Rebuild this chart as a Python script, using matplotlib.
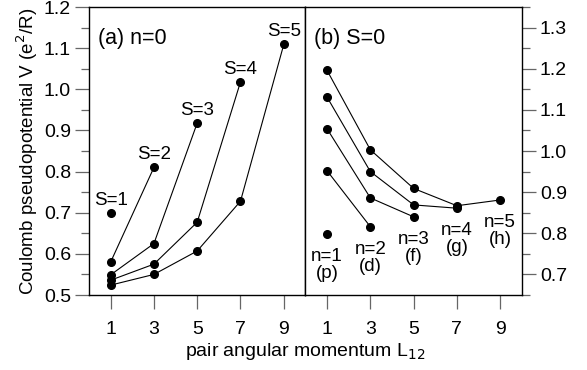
import numpy as np
import matplotlib
matplotlib.use("Agg")
import matplotlib.pyplot as plt
from matplotlib.ticker import MultipleLocator

plt.rcParams["font.family"] = ["Liberation Sans", "DejaVu Sans"]

# (a) n=0 : pseudopotentials for each S, vs L12
L_a = [1, 3, 5, 7, 9]
V_s1 = [0.70]
V_s2 = [0.58, 0.81]
V_s3 = [0.549, 0.625, 0.918]
V_s4 = [0.536, 0.575, 0.677, 1.018]
V_s5 = [0.524, 0.550, 0.607, 0.728, 1.109]
labels_a = ["S=1", "S=2", "S=3", "S=4", "S=5"]

# (b) S=0 : pseudopotentials for each n, vs L12
V_n1 = [0.798]
V_n2 = [0.952, 0.816]
V_n3 = [1.054, 0.886, 0.840]
V_n4 = [1.131, 0.950, 0.869, 0.861]
V_n5 = [1.196, 1.003, 0.909, 0.867, 0.881]
labels_b = ["n=1\n(p)", "n=2\n(d)", "n=3\n(f)", "n=4\n(g)", "n=5\n(h)"]

xticks = [1, 3, 5, 7, 9]

fig = plt.figure(figsize=(5.87, 3.70), dpi=100)
gs = fig.add_gridspec(1, 2, left=0.1516, right=0.889, bottom=0.2027, top=0.981, wspace=0)
ax1 = fig.add_subplot(gs[0])
ax2 = fig.add_subplot(gs[1])

line_kw = dict(color="black", lw=0.8, marker="o", ms=5.5, mfc="black", mec="black")

for V, lab in zip([V_s1, V_s2, V_s3, V_s4, V_s5], labels_a):
    x = L_a[:len(V)]
    ax1.plot(x, V, **line_kw)
    ax1.annotate(lab, (x[-1], V[-1]), xytext=(0, 3), textcoords="offset points",
                 ha="center", va="bottom", fontsize=13.5)

for V, lab in zip([V_n1, V_n2, V_n3, V_n4, V_n5], labels_b):
    x = L_a[:len(V)]
    ax2.plot(x, V, **line_kw)
    ax2.annotate(lab, (x[-1], V[-1]), xytext=(0, -10), textcoords="offset points",
                 ha="center", va="top", fontsize=13.5, linespacing=1.0)

ax1.set_xlim(0, 10)
ax1.set_ylim(0.5, 1.2)
ax2.set_xlim(0, 10)
ax2.set_ylim(0.65, 1.35)

for ax in (ax1, ax2):
    ax.set_xticks(xticks)
    ax.yaxis.set_major_locator(MultipleLocator(0.1))
    ax.yaxis.set_minor_locator(MultipleLocator(0.05))
    ax.tick_params(axis="x", which="major", direction="out", length=10, width=0.9,
                   color="#666666", labelsize=14, pad=9)
    ax.tick_params(axis="y", which="major", direction="out", length=10, width=0.9,
                   color="#666666", labelsize=14, pad=3)
    ax.tick_params(axis="y", which="minor", direction="out", length=6, width=0.9,
                   color="#666666")
    for s in ax.spines.values():
        s.set_linewidth(1.0)

ax1.yaxis.set_major_formatter(plt.FormatStrFormatter("%.1f"))
ax2.yaxis.set_major_formatter(plt.FormatStrFormatter("%.1f"))
ax2.yaxis.tick_right()
ax2.yaxis.set_label_position("right")
ax2.tick_params(axis="y", which="both", left=False, right=True)

ax1.text(0.04, 0.89, "(a) n=0", transform=ax1.transAxes, fontsize=15.5, ha="left", va="center")
ax2.text(0.04, 0.89, "(b) S=0", transform=ax2.transAxes, fontsize=15.5, ha="left", va="center")

ax1.set_ylabel("Coulomb pseudopotential V (e$^2$/R)", fontsize=13.5, labelpad=3)
fig.text(0.52, 0.05, "pair angular momentum L$_{12}$", ha="center", va="center", fontsize=14)

fig.savefig("out.png", dpi=100)
